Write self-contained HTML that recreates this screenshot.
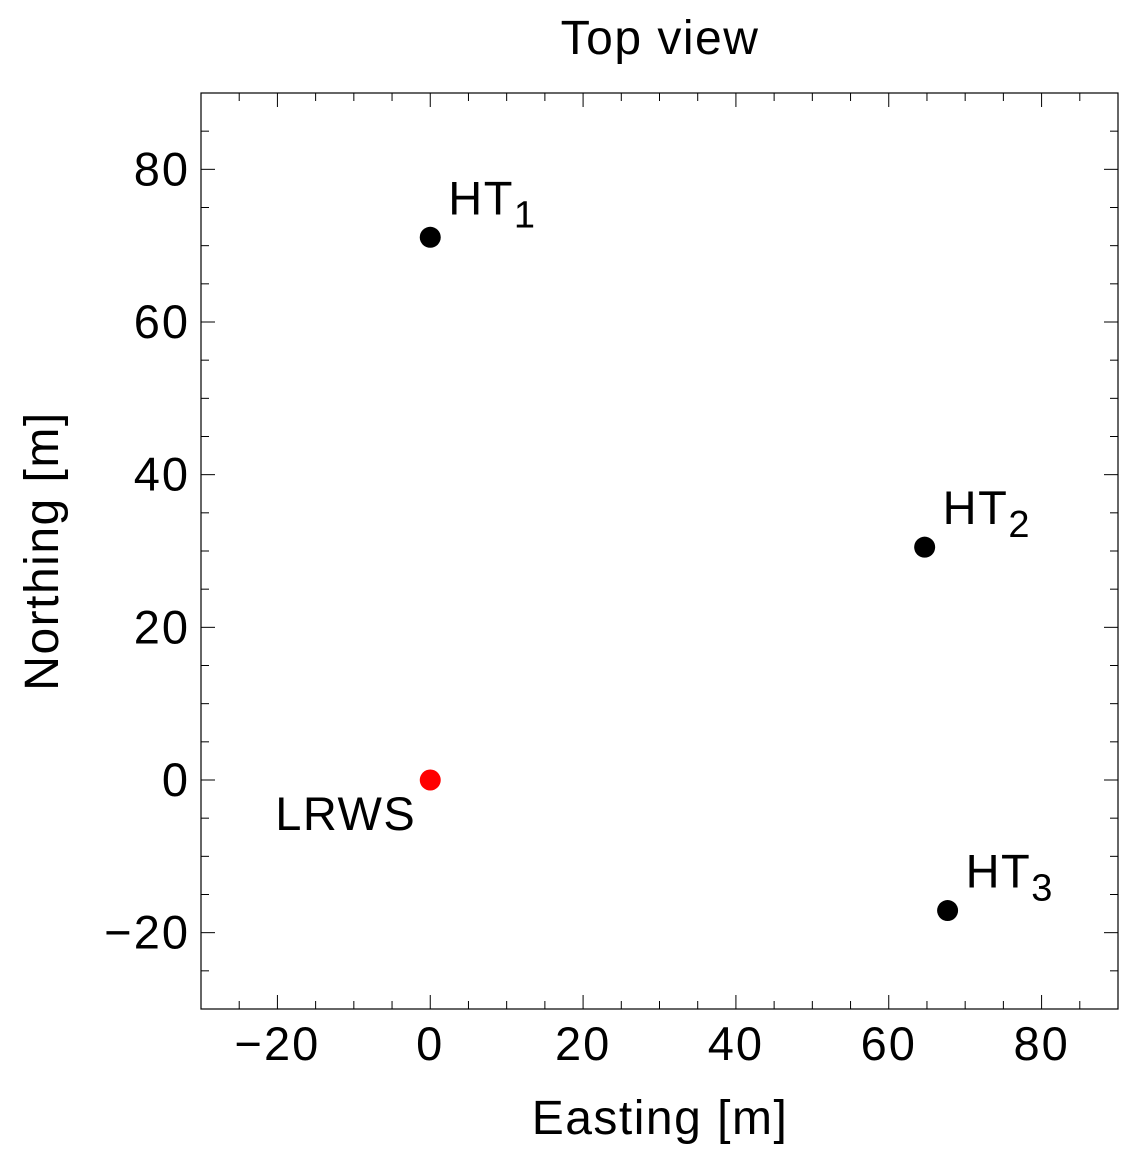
<!DOCTYPE html>
<html><head><meta charset="utf-8"><style>
html,body{margin:0;padding:0;background:#fff;}
svg{display:block;font-family:"Liberation Sans",Arial,sans-serif;}
</style></head><body>
<svg id="chart" width="1144" height="1165">
<text x="660" y="54" font-size="48" letter-spacing="1.5" text-anchor="middle">Top view</text>
<text x="660" y="1134" font-size="48" letter-spacing="1.5" text-anchor="middle">Easting [m]</text>
<text transform="translate(58,551) rotate(-90)" font-size="48" letter-spacing="1.5" text-anchor="middle">Northing [m]</text>
<g id="axes"></g>
<g id="points"></g>
</svg>
<script>
const xTicks=[-20,0,20,40,60,80];
const yTicks=[-20,0,20,40,60,80];
const labels=["HT1","HT2","HT3","LRWS"];
const eastings=[0,64.7,67.7,0];
const northings=[71.1,30.5,-17.1,0];
const xMin=-30,xMax=90,yMin=-30,yMax=90;
const L=201,R=1118,T=93,B=1009;
const sx=v=>L+(v-xMin)/(xMax-xMin)*(R-L);
const sy=v=>B-(v-yMin)/(yMax-yMin)*(B-T);
const NS="http://www.w3.org/2000/svg";
const ax=document.getElementById('axes'),pts=document.getElementById('points');
function mk(t,a,p){const e=document.createElementNS(NS,t);for(const k in a)e.setAttribute(k,a[k]);p.appendChild(e);return e;}
const fr=mk('rect',{x:L,y:T,width:R-L,height:B-T,fill:'none',stroke:'#000','stroke-width':1.2},ax);


for(let v=-25;v<=85;v+=5){
 const maj=v%20===0,len=maj?14:8;
 const x=sx(v),y=sy(v);
 mk('line',{x1:x,y1:B,x2:x,y2:B-len,stroke:'#000','stroke-width':1},ax);
 mk('line',{x1:x,y1:T,x2:x,y2:T+len,stroke:'#000','stroke-width':1},ax);
 mk('line',{x1:L,y1:y,x2:L+len,y2:y,stroke:'#000','stroke-width':1},ax);
 mk('line',{x1:R,y1:y,x2:R-len,y2:y,stroke:'#000','stroke-width':1},ax);
}
xTicks.forEach(v=>{const t=mk('text',{x:sx(v),y:1060,'font-size':47,'letter-spacing':2,'text-anchor':'middle'},ax);t.textContent=(v<0?'\u2212'+(-v):v);
 
 });
yTicks.forEach(v=>{const t=mk('text',{x:190,y:sy(v)+16,'font-size':47,'letter-spacing':2,'text-anchor':'end'},ax);t.textContent=(v<0?'\u2212'+(-v):v);
 
 });
labels.forEach((lab,i)=>{
 const x=sx(eastings[i]),y=sy(northings[i]);
 const red=lab==='LRWS';
 const c=mk('circle',{cx:x,cy:y,r:10.5,fill:red?'#f00':'#000'},pts);
 
 
 let t;
 if(red){t=mk('text',{x:x-14,y:y+50,'font-size':47,'letter-spacing':1.5,'text-anchor':'end'},pts);t.textContent=lab;}
 else{t=mk('text',{x:x+18,y:y-23,'font-size':47,'letter-spacing':1.5},pts);t.textContent=lab.slice(0,2);
  const s=mk('tspan',{'font-size':38,dy:13},t);s.textContent=lab.slice(2);}
 
 
});
</script>
</body></html>
